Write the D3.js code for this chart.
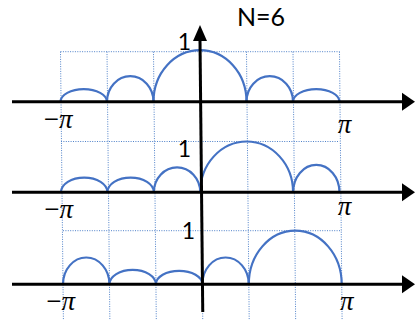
<!DOCTYPE html>
<html>
<head>
<meta charset="utf-8">
<script src="https://cdn.jsdelivr.net/npm/d3@7"></script>
<style>
  html, body { margin: 0; padding: 0; background: #fff; }
  svg { display: block; }
</style>
</head>
<body>
<script>
// Grid positions along x, in multiples of π
const gridUnits = [-1, -2/3, -1/3, 0, 1/3, 2/3, 1];

// Each row: lobe boundaries (multiples of π) and lobe peak heights
const row1Edges = [-1, -2/3, -1/3, 1/3, 2/3, 1];
const row1Peaks = [0.25, 0.51, 1.03, 0.51, 0.25];
const row2Edges = [-1, -2/3, -1/3, 0, 2/3, 1];
const row2Peaks = [0.29, 0.29, 0.49, 1.0, 0.54];
const row3Edges = [-1, -2/3, -1/3, 0, 1/3, 1];
const row3Peaks = [0.50, 0.27, 0.25, 0.50, 1.0];

const titleText = "N=6";
const yTickText = "1";
const xTickLeft = "\u2212\u03C0";
const xTickRight = "\u03C0";

const W = 416, H = 320;
const PI = Math.PI;
const curveColor = "#4472C4";
const gridColor = "#4F81C9";

// Row layout: x range for [-π, π], y range for [0, 1], label offsets
const rows = [
  { edges: row1Edges, peaks: row1Peaks, xr: [60.5, 339.5], yr: [101.7, 51.7],
    one: [191, 50], negPi: [128], pi: [133] },
  { edges: row2Edges, peaks: row2Peaks, xr: [61, 339.5], yr: [192.3, 141.5],
    one: [191, 157], negPi: [218], pi: [215] },
  { edges: row3Edges, peaks: row3Peaks, xr: [63, 341.7], yr: [284.3, 230.7],
    one: [195, 239], negPi: [310], pi: [310] }
];
rows.forEach(r => {
  r.x = d3.scaleLinear().domain([-PI, PI]).range(r.xr);
  r.y = d3.scaleLinear().domain([0, 1]).range(r.yr);
});

const svg = d3.select("body").append("svg")
  .attr("width", W).attr("height", H);

// Dotted grid: vertical lines run from the top row's unit level to the bottom edge
const firstRow = rows[0], lastRow = rows[2];
const gGrid = svg.append("g")
  .attr("stroke", gridColor).attr("stroke-width", 1)
  .attr("stroke-dasharray", "1,1.4").attr("fill", "none");

gGrid.selectAll("line.v").data(gridUnits).join("line")
  .attr("class", "v")
  .attr("x1", d => firstRow.x(d * PI)).attr("y1", firstRow.y(1))
  .attr("x2", d => lastRow.x(d * PI) + 0.4).attr("y2", H);

gGrid.selectAll("line.h").data(rows).join("line")
  .attr("class", "h")
  .attr("x1", r => r.x(-PI)).attr("x2", r => r.x(PI))
  .attr("y1", r => r.y(1)).attr("y2", r => r.y(1));

// Lobes drawn as half-ellipses between consecutive zeros
function lobePath(r, a, b, h) {
  const x0 = r.x(a * PI), x1 = r.x(b * PI), y0 = r.y(0);
  const rx = (x1 - x0) / 2, ry = y0 - r.y(h);
  return `M${x0},${y0} A${rx},${ry} 0 0 1 ${x1},${y0}`;
}

rows.forEach(r => {
  const lobes = r.peaks.map((h, i) => ({ a: r.edges[i], b: r.edges[i + 1], h }));
  svg.append("g").selectAll("path").data(lobes).join("path")
    .attr("d", d => lobePath(r, d.a, d.b, d.h))
    .attr("fill", "none").attr("stroke", curveColor)
    .attr("stroke-width", 2.2);
});

// Horizontal axes with arrowheads
const axisLeft = 12, arrowBase = 402, arrowTip = 415;
rows.forEach(r => {
  const y0 = r.y(0);
  svg.append("line")
    .attr("x1", axisLeft).attr("x2", arrowBase + 1)
    .attr("y1", y0).attr("y2", y0)
    .attr("stroke", "#000").attr("stroke-width", 3);
  svg.append("path")
    .attr("d", `M${arrowBase},${y0 - 9} L${arrowTip},${y0} L${arrowBase},${y0 + 9} Z`)
    .attr("fill", "#000");
});

// Vertical axis with arrowhead
const vx0 = firstRow.x(0), vx1 = lastRow.x(0) + 0.4;
svg.append("line")
  .attr("x1", vx0).attr("y1", 40).attr("x2", vx1).attr("y2", 312)
  .attr("stroke", "#000").attr("stroke-width", 3);
svg.append("path")
  .attr("d", `M${vx0 - 7},${41} L${vx0},${25} L${vx0 + 7},${41} Z`)
  .attr("fill", "#000");

// Labels
const sansFont = "Lato, 'Open Sans', sans-serif";
const mathFont = "'Liberation Serif', 'DejaVu Serif', serif";

rows.forEach(r => {
  svg.append("text")
    .attr("x", r.one[0]).attr("y", r.one[1])
    .attr("text-anchor", "end")
    .attr("font-family", sansFont).attr("font-size", 23)
    .text(yTickText);

  const neg = svg.append("text")
    .attr("x", r.x(-PI) + 12).attr("y", r.negPi[0])
    .attr("text-anchor", "end")
    .attr("font-family", mathFont).attr("font-size", 27);
  neg.append("tspan").text(xTickLeft[0]);
  neg.append("tspan").attr("font-style", "italic").text(xTickLeft[1]);

  svg.append("text")
    .attr("x", r.x(PI) + 5).attr("y", r.pi[0])
    .attr("text-anchor", "middle")
    .attr("font-family", mathFont).attr("font-size", 27)
    .attr("font-style", "italic")
    .text(xTickRight);
});

svg.append("text")
  .attr("x", 237).attr("y", 26)
  .attr("font-family", sansFont).attr("font-size", 25)
  .text(titleText);
</script>
</body>
</html>
